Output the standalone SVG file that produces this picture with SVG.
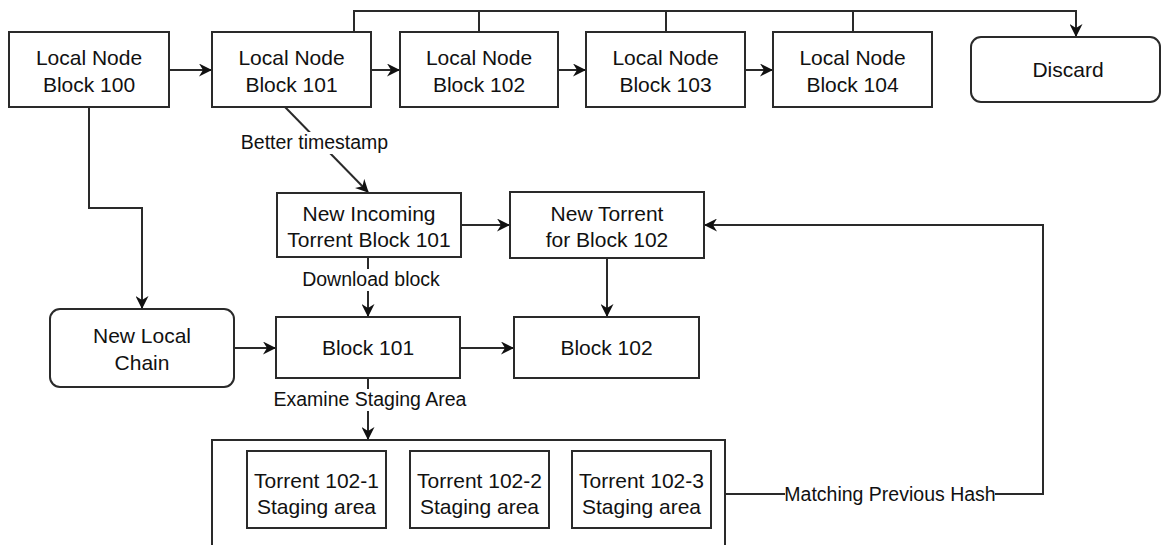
<svg xmlns="http://www.w3.org/2000/svg" width="1162" height="545" viewBox="0 0 1162 545">
<style>
.box{fill:#fff;stroke:#2a2a2a;stroke-width:2}
.t{font-family:"Liberation Sans",Arial,sans-serif;font-size:21px;fill:#111;text-anchor:middle}
.l{font-family:"Liberation Sans",Arial,sans-serif;font-size:19.5px;fill:#111;text-anchor:middle}
.e{fill:none;stroke:#2a2a2a;stroke-width:2}
.a{marker-end:url(#arr)}
.bg{fill:#fff}
</style>
<defs>
<marker id="arr" markerWidth="13" markerHeight="13" viewBox="0 0 13 13" refX="12" refY="6.5" orient="auto" markerUnits="userSpaceOnUse">
<path d="M0,0 L13,6.5 L0,13 L4,6.5 Z" fill="#111"/>
</marker>
</defs>
<rect width="1162" height="545" fill="#fff"/>
<g id="connectors">
<path class="e" d="M354,32 V11 H1076 V36" marker-end="url(#arr)"/>
<path class="e" d="M479,32 V11"/>
<path class="e" d="M666,32 V11"/>
<path class="e" d="M853,32 V11"/>
<path class="e a" d="M169,70 H211"/>
<path class="e a" d="M371,70 H399"/>
<path class="e a" d="M558,70 H585"/>
<path class="e a" d="M745,70 H772"/>
<path class="e a" d="M89,107 V208 H142 V308"/>
<path class="e a" d="M285,107 L368,192"/>
<path class="e a" d="M461,225 H509"/>
<path class="e a" d="M368,257 V316"/>
<path class="e a" d="M607,258 V316"/>
<path class="e a" d="M234,348 H275"/>
<path class="e a" d="M460,348 H513"/>
<path class="e a" d="M368,378 V439"/>
<path class="e a" d="M711,494 H1043 V225 H705"/>
<rect class="bg" x="240" y="132" width="150" height="22"/>
<text class="l" x="314.5" y="149">Better timestamp</text>
<rect class="bg" x="302" y="269" width="140" height="22"/>
<text class="l" x="371" y="286">Download block</text>
<rect class="bg" x="272" y="389" width="196" height="22"/>
<text class="l" x="370" y="406">Examine Staging Area</text>
<rect class="bg" x="785" y="484" width="210" height="20"/>
<text class="l" x="890" y="500.5">Matching Previous Hash</text>
</g>
<g id="n100"><rect class="box" x="9" y="32" width="160" height="75"/><text class="t" x="89" y="65">Local Node</text><text class="t" x="89" y="92">Block 100</text></g>
<g id="n101"><rect class="box" x="212" y="32" width="159" height="75"/><text class="t" x="291.5" y="65">Local Node</text><text class="t" x="291.5" y="92">Block 101</text></g>
<g id="n102"><rect class="box" x="400" y="32" width="158" height="75"/><text class="t" x="479" y="65">Local Node</text><text class="t" x="479" y="92">Block 102</text></g>
<g id="n103"><rect class="box" x="586" y="32" width="159" height="75"/><text class="t" x="665.5" y="65">Local Node</text><text class="t" x="665.5" y="92">Block 103</text></g>
<g id="n104"><rect class="box" x="773" y="32" width="159" height="75"/><text class="t" x="852.5" y="65">Local Node</text><text class="t" x="852.5" y="92">Block 104</text></g>
<g id="discard"><rect class="box" x="971" y="37" width="189" height="65" rx="10"/><text class="t" x="1068" y="77">Discard</text></g>
<g id="incoming"><rect class="box" x="277" y="193" width="184" height="64"/><text class="t" x="369" y="220.5">New Incoming</text><text class="t" x="369" y="247">Torrent Block 101</text></g>
<g id="newtorrent"><rect class="box" x="510" y="192" width="194" height="66"/><text class="t" x="607" y="220.5">New Torrent</text><text class="t" x="607" y="247">for Block 102</text></g>
<g id="newlocal"><rect class="box" x="50" y="309" width="184" height="78" rx="10"/><text class="t" x="142" y="342.5">New Local</text><text class="t" x="142" y="369.5">Chain</text></g>
<g id="b101"><rect class="box" x="276" y="317" width="184" height="61"/><text class="t" x="368" y="354.5">Block 101</text></g>
<g id="b102"><rect class="box" x="514" y="317" width="185" height="61"/><text class="t" x="606.5" y="354.5">Block 102</text></g>
<g id="staging"><rect class="box" x="212" y="440" width="513" height="130"/></g>
<g id="t1"><rect class="box" x="247" y="451" width="139" height="77"/><text class="t" x="316.5" y="488">Torrent 102-1</text><text class="t" x="316.5" y="514">Staging area</text></g>
<g id="t2"><rect class="box" x="410" y="451" width="139" height="77"/><text class="t" x="479.5" y="488">Torrent 102-2</text><text class="t" x="479.5" y="514">Staging area</text></g>
<g id="t3"><rect class="box" x="572" y="451" width="139" height="77"/><text class="t" x="641.5" y="488">Torrent 102-3</text><text class="t" x="641.5" y="514">Staging area</text></g>
</svg>
